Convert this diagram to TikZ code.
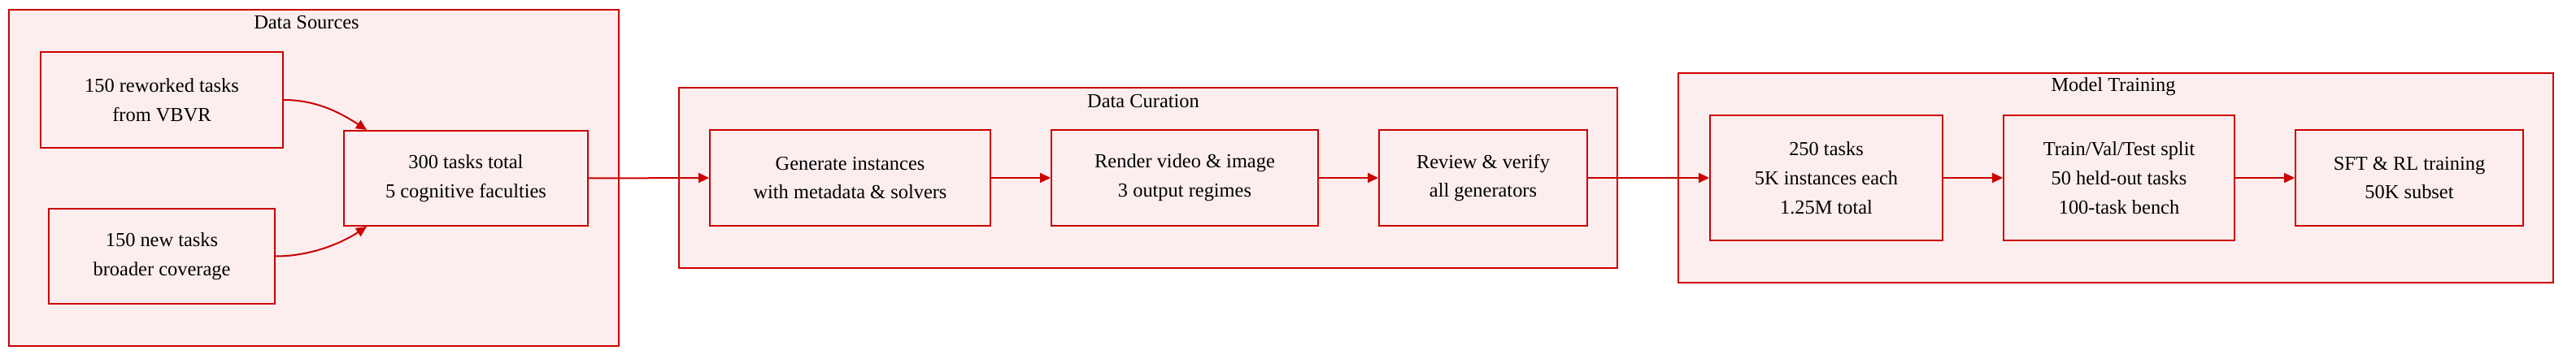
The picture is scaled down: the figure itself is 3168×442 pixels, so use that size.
\documentclass[tikz,border=0pt]{standalone}
\usepackage{fontspec}
\setmainfont{Liberation Serif}
\usetikzlibrary{arrows.meta,calc}
\definecolor{redline}{RGB}{204,0,0}
\definecolor{pinkfill}{RGB}{252,238,238}
\tikzset{
  cluster/.style={draw=redline, fill=pinkfill, line width=2bp},
  box/.style={draw=redline, fill=pinkfill, line width=2bp, rectangle, inner sep=0pt,
     align=center, font=\fontsize{24.5}{36}\selectfont, text=black},
  ctitle/.style={font=\fontsize{24.5}{29}\selectfont, text=black, inner sep=0pt},
  flow/.style={draw=redline, line width=2bp, -{Triangle[length=13bp,width=12bp]}},
}
\begin{document}
\begin{tikzpicture}[x=1bp,y=-1bp]
\useasboundingbox (0,0) rectangle (3168,442);
% clusters
\draw[cluster] (11,12) rectangle (761,426);
\node[ctitle] (t1) at (377,28) {Data Sources};
\draw[cluster] (835,108) rectangle (1989,330);
\node[ctitle] (t2) at (1406,125) {Data Curation};
\draw[cluster] (2064,90) rectangle (3140,348);
\node[ctitle] (t3) at (2599,107) {Model Training};
% nodes
\node[box, minimum width=298bp, minimum height=118bp] (A) at (199,123) {150 reworked tasks\\from VBVR};
\node[box, minimum width=278bp, minimum height=117bp] (B) at (199,315.5) {150 new tasks\\broader coverage};
\node[box, minimum width=300bp, minimum height=117bp] (C) at (573,219.5) {300 tasks total\\5 cognitive faculties};
\node[box, minimum width=345bp, minimum height=118bp] (D) at (1045.5,219) {Generate instances\\with metadata \& solvers};
\node[box, minimum width=328bp, minimum height=118bp] (E) at (1457,219) {Render video \& image\\3 output regimes};
\node[box, minimum width=256bp, minimum height=118bp] (F) at (1824,219) {Review \& verify\\all generators};
\node[box, minimum width=286bp, minimum height=154bp] (G) at (2246,219) {250 tasks\\5K instances each\\1.25M total};
\node[box, minimum width=284bp, minimum height=154bp] (H) at (2606,219) {Train/Val/Test split\\50 held-out tasks\\100-task bench};
\node[box, minimum width=280bp, minimum height=118bp] (I) at (2963,219) {SFT \& RL training\\50K subset};
% edges
\draw[flow] (A.east) .. controls ($(A.east)+(40,0)$) and ($(C.north west)+(-3,-21)$) .. ($(C.north west)+(29,0)$);
\draw[flow] (B.east) .. controls ($(B.east)+(42,0)$) and ($(C.south west)+(-3,21)$) .. ($(C.south west)+(29,0)$);
\draw[flow] (C.east) -- (D.west);
\draw[flow] (D.east) -- (E.west);
\draw[flow] (E.east) -- (F.west);
\draw[flow] (F.east) -- (G.west);
\draw[flow] (G.east) -- (H.west);
\draw[flow] (H.east) -- (I.west);
\end{tikzpicture}
\end{document}
